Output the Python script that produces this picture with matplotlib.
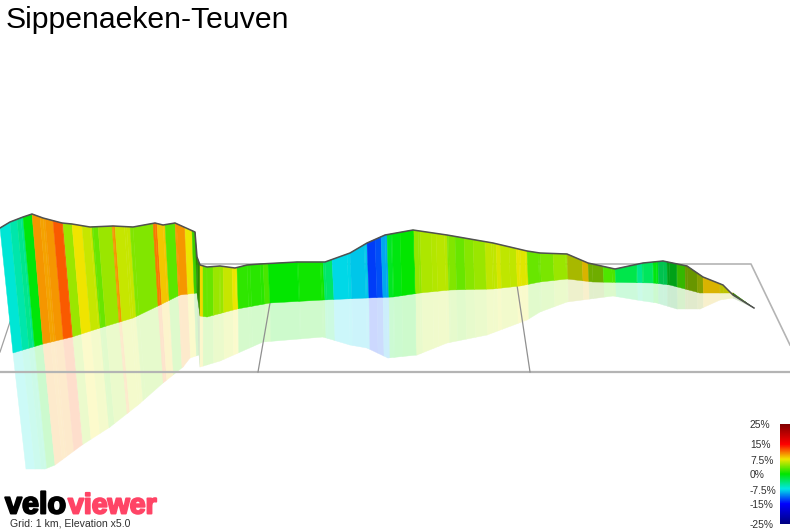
import numpy as np
import matplotlib
matplotlib.use("Agg")
import matplotlib.pyplot as plt
import matplotlib.patheffects as pe
from matplotlib.collections import PolyCollection
from matplotlib.colors import LinearSegmentedColormap, Normalize

plt.rcParams['font.family'] = ['Liberation Sans', 'DejaVu Sans']

TITLE = "Sippenaeken-Teuven"
FOOTNOTE = "Grid: 1 km, Elevation x5.0"

# outline of the ride, read in image pixels
top_x = [0, 10, 23, 32, 43, 62, 72, 90, 113, 133, 155, 163, 175, 195, 197, 200, 207, 220, 235, 247, 260, 297, 325,
         350, 367, 385, 413, 447, 493, 527, 540, 567, 588, 615, 643, 663, 687, 703, 723, 733, 754]
top_y = [228, 222, 217, 214, 218, 223, 224, 227, 226, 227, 223, 225, 223, 232, 257, 265, 267, 266, 268, 265, 264, 262, 262,
         253, 243, 235, 230, 235, 243, 251, 253, 254, 263, 269, 263, 261, 266, 277, 285, 295, 308]

# top x -> x of the wall foot and of the reflection foot
off_top = [0, 32, 62, 113, 155, 195, 200, 260, 413, 754]
off_base = [13, 43, 72, 120, 160, 197, 200, 262, 415, 754]
off_refl = [26, 55, 82, 128, 165, 199, 200, 263, 416, 754]

base_x = [13, 43, 72, 100, 133, 160, 180, 197, 200, 207, 237, 270, 323, 367, 393, 420, 450, 493, 520, 540, 567, 593, 653, 670, 700, 733, 754]
base_y = [353, 344, 337, 328, 318, 305, 295, 293, 316, 317, 309, 303, 300, 298, 297, 293, 290, 289, 286, 282, 279, 282, 283, 285, 293, 293, 308]

refl_x = [26, 45, 55, 82, 110, 138, 163, 183, 190, 199, 200, 220, 263, 323, 350, 367, 388, 417, 447, 487, 527, 540, 567, 613, 637, 657, 677, 700, 720, 733, 754]
refl_y = [469, 469, 465, 445, 427, 405, 383, 367, 358, 355, 367, 361, 342, 337, 345, 348, 358, 355, 343, 335, 320, 312, 302, 296, 300, 303, 309, 309, 300, 298, 308]

# colour bands along the ride: start x, gradient %, shading
band_x = [0, 10, 17, 23, 32, 40, 45, 53, 63, 72, 82, 92, 98, 112, 115, 130, 153, 157, 165, 175, 185, 192, 195,
          200, 203, 213, 223, 232, 237, 250, 263, 268, 298, 323, 332, 350, 367, 375, 381, 387, 392, 400, 414, 420, 431, 436,
          447, 455, 464, 473, 485, 496, 500, 509, 516, 520, 527, 540, 553, 567, 582, 588, 603, 615, 637, 642, 653, 658, 667, 677,
          685, 697, 703, 720, 733, 745]
band_pct = [-7, -5.5, -4.5, -0.3, 10, 9.7, 10, 12, 4.7, 7.5, 6.2, 3.2, 4.7, 10, 6.2, 4, 11, 8.5, 2.8, 10, 7.4, 2, 2,
            8, 3.2, 4.7, 6.2, 7.3, 1.5, 1.3, 2.2, 0, 0.5, -3.5, -8, -8.5, -13, -12.5, -9.5, -1, -0.5, 0, 4.5, 5.3, 5.5, 5.8,
            4, 3.3, 4.2, 4.8, 5.9, 6.8, 5.9, 6, 7.2, 7, 3.3, 3.8, 4.8, 6.5, 8.5, 4.5, 2.5, -2.5, -4.5, -3, -0.5, -3, -1, 2,
            5, 6, 8.5, 7, 3, 2]
band_shade = [1] * 21 + [0.9, 0.6] + [1] * 36 + [0.8, 0.9, 0.75, 1, 1, 1, 1, 1, 0.85, 0.7, 0.8,
                                                  0.65, 0.7, 0.9, 0.85, 0.55, 0.4]
band_shade = (band_shade + [1] * len(band_pct))[:len(band_pct)]

# scale of the legend
legend_pct = [25, 15, 7.5, 0, -7.5, -15, -25]
legend_txt = ["25%", "15%", "7.5%", "0%", "-7.5%", "-15%", "-25%"]
legend_col = ["#820000", "#ff0000", "#f0e600", "#00e600", "#00e6e6", "#0000ff", "#000082"]

node = [(v + 25) / 50 for v in legend_pct[::-1]]
cmap = LinearSegmentedColormap.from_list("grade", list(zip(node, legend_col[::-1])))
norm = Normalize(-25, 25)

fig = plt.figure(figsize=(7.9, 5.29), dpi=100)
ax = fig.add_axes([0, 0, 1, 1])
ax.set_xlim(0, 790)
ax.set_ylim(529, 0)
ax.axis("off")

# split the bands also at the corners of the outlines
edges = np.union1d(band_x, top_x)
edges = np.union1d(edges, np.interp(base_x, off_base, off_top))
edges = np.union1d(edges, np.interp(refl_x, off_refl, off_top))
edges = edges[edges <= 754]

ty = np.interp(edges, top_x, top_y)
bx = np.interp(edges, off_top, off_base)
by = np.interp(bx, base_x, base_y)
rx = np.interp(edges, off_top, off_refl)
ry = np.interp(rx, refl_x, refl_y)

idx = np.searchsorted(band_x, edges[:-1], side="right") - 1
rgb = cmap(norm(np.array(band_pct)[idx]))[:, :3]
shade = np.array(band_shade)[idx][:, None]
wall_col = rgb * shade
refl_col = 1 - (1 - wall_col) * 0.2

wall, refl = [], []
for i in range(len(edges) - 1):
    wall.append([(edges[i], ty[i]), (edges[i + 1], ty[i + 1]), (bx[i + 1], by[i + 1]), (bx[i], by[i])])
    refl.append([(bx[i], by[i]), (bx[i + 1], by[i + 1]), (rx[i + 1], ry[i + 1]), (rx[i], ry[i])])

ax.add_collection(PolyCollection(refl, facecolors=refl_col, edgecolors=refl_col, linewidths=0.3, zorder=1))

# grid
grid_c = "#b4b4b4"
ax.plot([0, 790], [372, 372], color=grid_c, lw=1.6, zorder=2)
ax.plot([197, 751, 790], [264, 264, 345], color=grid_c, lw=1.2, zorder=2)
ax.plot([0, 10], [352, 322], color="#a0a0a0", lw=0.9, zorder=2)
ax.plot([258, 270], [372, 303], color="#909090", lw=0.9, zorder=2)
ax.plot([530, 517], [372, 285], color="#909090", lw=0.9, zorder=2)

ax.add_collection(PolyCollection(wall, facecolors=wall_col, edgecolors=wall_col, linewidths=0.3, zorder=3))
ax.plot(top_x, top_y, color="#505050", lw=1.1, zorder=4, solid_joinstyle="round")

ax.text(6, 28, TITLE, fontsize=21.7, color="black", va="baseline", ha="left")

# legend
grad = np.linspace(1, 0, 200)[:, None]
ax.imshow(grad, cmap=cmap, vmin=0, vmax=1, extent=[780, 790, 524, 424], aspect="auto", zorder=5)
ax.set_xlim(0, 790)
ax.set_ylim(529, 0)
for v, t in zip(legend_pct, legend_txt):
    ax.text(750, 475.5 - v * 2, t, fontsize=7.4, color="#303030", va="center", ha="left", zorder=5)

# logo and footnote
stroke = [pe.withStroke(linewidth=1.4, foreground="black")]
ax.text(5, 513.5, "velo", fontsize=22, fontweight="bold", color="black", path_effects=stroke, zorder=5)
stroke2 = [pe.withStroke(linewidth=1.4, foreground="#ff4466")]
ax.text(68, 513.5, "viewer", fontsize=20.5, fontweight="bold", color="#ff4466", path_effects=stroke2, zorder=5)
ax.text(10, 527, FOOTNOTE, fontsize=7.6, color="#303030", zorder=5)

fig.savefig("out.png", dpi=100, facecolor="white")
